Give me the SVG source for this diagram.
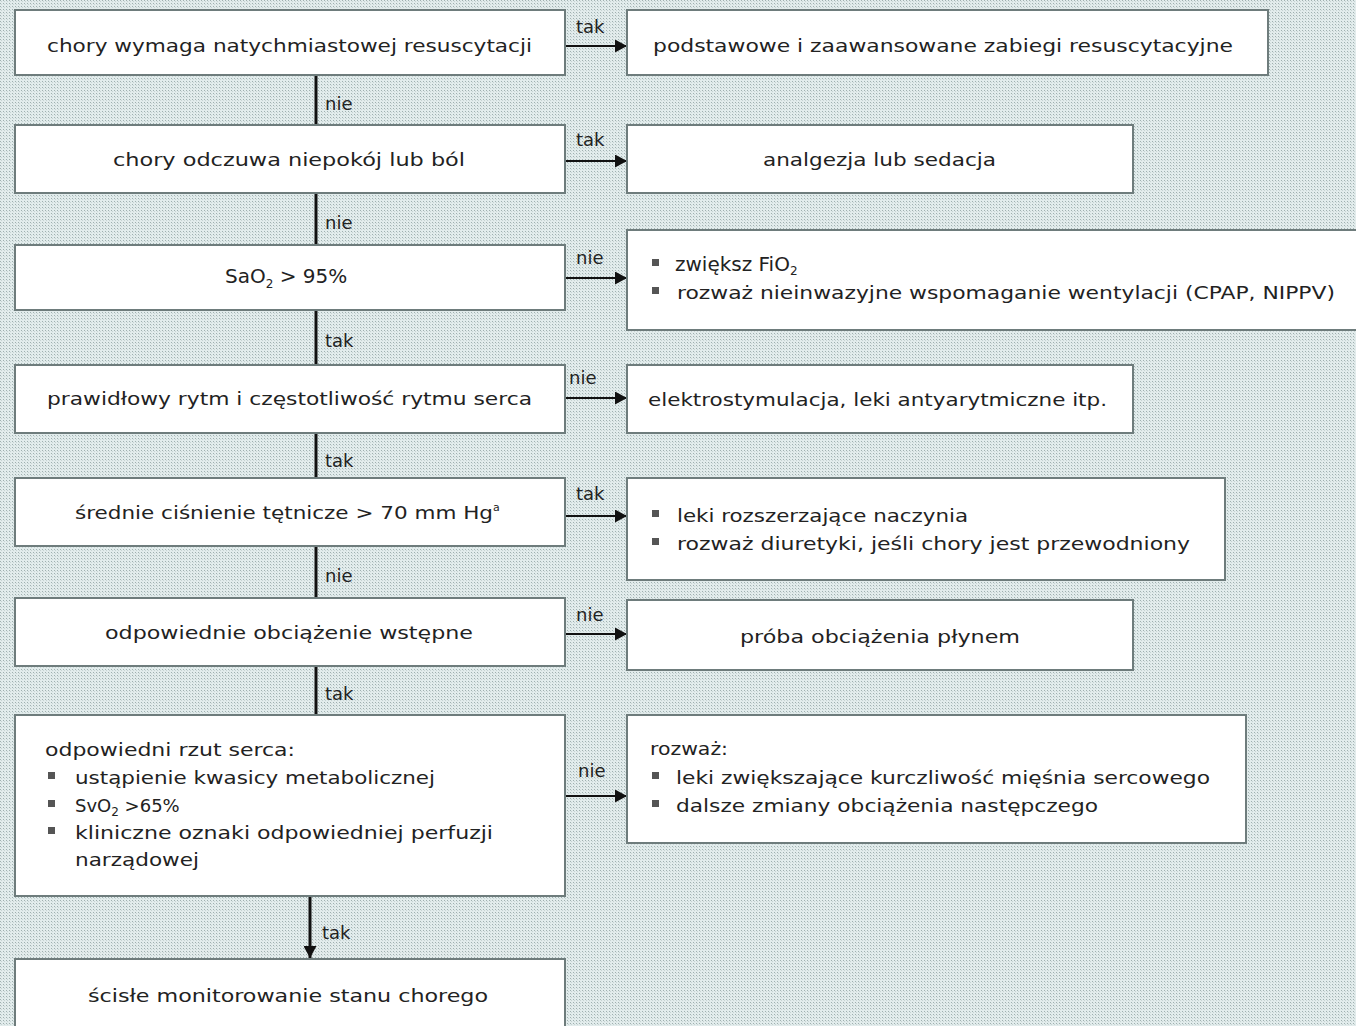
<svg xmlns="http://www.w3.org/2000/svg" width="1356" height="1026" viewBox="0 0 1356 1026">
<defs>
<pattern id="dots" width="3" height="3" patternUnits="userSpaceOnUse">
<rect width="3" height="3" fill="#e2ecec"/>
<rect width="1" height="1" fill="#9fb0b0"/>
<rect x="1" y="1" width="1" height="1" fill="#c6d3d3"/>
</pattern>
<marker id="ah" markerUnits="userSpaceOnUse" markerWidth="12" markerHeight="13" refX="12" refY="6.5" orient="auto">
<path d="M0,0 L12,6.5 L0,13 z" fill="#111"/>
</marker>
<style>
.box{fill:#ffffff;stroke:#6e7c7c;stroke-width:2}
.t{font-family:"DejaVu Sans","Liberation Sans",sans-serif;font-size:18px;fill:#222}
.lbl{font-family:"DejaVu Sans","Liberation Sans",sans-serif;font-size:18px;fill:#222}
.v{stroke:#111;stroke-width:3;fill:none}
.h{stroke:#111;stroke-width:2;fill:none}
.b{fill:#555}
.sub{font-size:12px}
.big{font-size:20px}
</style>
</defs>
<rect width="1356" height="1026" fill="url(#dots)"/>

<g id="connectors">
<line class="v" x1="316" y1="75" x2="316" y2="125"/>
<line class="v" x1="316" y1="193" x2="316" y2="245"/>
<line class="v" x1="316" y1="310" x2="316" y2="365"/>
<line class="v" x1="316" y1="433" x2="316" y2="478"/>
<line class="v" x1="316" y1="546" x2="316" y2="598"/>
<line class="v" x1="316" y1="666" x2="316" y2="715"/>
<line class="v" x1="310" y1="896" x2="310" y2="958" marker-end="url(#ah)"/>
<line class="h" x1="566" y1="46" x2="627" y2="46" marker-end="url(#ah)"/>
<line class="h" x1="566" y1="161" x2="627" y2="161" marker-end="url(#ah)"/>
<line class="h" x1="566" y1="278" x2="627" y2="278" marker-end="url(#ah)"/>
<line class="h" x1="566" y1="398" x2="627" y2="398" marker-end="url(#ah)"/>
<line class="h" x1="566" y1="516" x2="627" y2="516" marker-end="url(#ah)"/>
<line class="h" x1="566" y1="634" x2="627" y2="634" marker-end="url(#ah)"/>
<line class="h" x1="566" y1="796" x2="627" y2="796" marker-end="url(#ah)"/>
<text class="lbl" x="325" y="110">nie</text>
<text class="lbl" x="325" y="229">nie</text>
<text class="lbl" x="325" y="347">tak</text>
<text class="lbl" x="325" y="467">tak</text>
<text class="lbl" x="325" y="582">nie</text>
<text class="lbl" x="325" y="700">tak</text>
<text class="lbl" x="322" y="939">tak</text>
<text class="lbl" x="576" y="33">tak</text>
<text class="lbl" x="576" y="146">tak</text>
<text class="lbl" x="576" y="264">nie</text>
<text class="lbl" x="569" y="384">nie</text>
<text class="lbl" x="576" y="500">tak</text>
<text class="lbl" x="576" y="621">nie</text>
<text class="lbl" x="578" y="777">nie</text>
</g>

<g id="n1"><rect class="box" x="15" y="10" width="550" height="65"/>
<text class="t" x="47" y="52" textLength="485" lengthAdjust="spacingAndGlyphs">chory wymaga natychmiastowej resuscytacji</text></g>
<g id="n2"><rect class="box" x="627" y="10" width="641" height="65"/>
<text class="t" x="653" y="52" textLength="580" lengthAdjust="spacingAndGlyphs">podstawowe i zaawansowane zabiegi resuscytacyjne</text></g>

<g id="n3"><rect class="box" x="15" y="125" width="550" height="68"/>
<text class="t" x="113" y="166" textLength="352" lengthAdjust="spacingAndGlyphs">chory odczuwa niepokój lub ból</text></g>
<g id="n4"><rect class="box" x="627" y="125" width="506" height="68"/>
<text class="t" x="763" y="166" textLength="233" lengthAdjust="spacingAndGlyphs">analgezja lub sedacja</text></g>

<g id="n5"><rect class="box" x="15" y="245" width="550" height="65"/>
<text class="t big" x="225" y="283">SaO<tspan class="sub" dy="5">2</tspan><tspan dy="-5"> &gt; 95%</tspan></text></g>
<g id="n6"><rect class="box" x="627" y="230" width="740" height="100"/>
<rect class="b" x="652" y="259" width="7" height="7"/>
<text class="t big" x="675" y="271">zwiększ FiO<tspan class="sub" dy="4">2</tspan></text>
<rect class="b" x="652" y="287" width="7" height="7"/>
<text class="t" x="677" y="299" textLength="658" lengthAdjust="spacingAndGlyphs">rozważ nieinwazyjne wspomaganie wentylacji (CPAP, NIPPV)</text></g>

<g id="n7"><rect class="box" x="15" y="365" width="550" height="68"/>
<text class="t" x="47" y="405" textLength="485" lengthAdjust="spacingAndGlyphs">prawidłowy rytm i częstotliwość rytmu serca</text></g>
<g id="n8"><rect class="box" x="627" y="365" width="506" height="68"/>
<text class="t" x="648" y="406" textLength="459" lengthAdjust="spacingAndGlyphs">elektrostymulacja, leki antyarytmiczne itp.</text></g>

<g id="n9"><rect class="box" x="15" y="478" width="550" height="68"/>
<text class="t" x="75" y="519"><tspan textLength="418" lengthAdjust="spacingAndGlyphs">średnie ciśnienie tętnicze &gt; 70 mm Hg</tspan><tspan font-size="11" dy="-8">a</tspan></text></g>
<g id="n10"><rect class="box" x="627" y="478" width="598" height="102"/>
<rect class="b" x="652" y="510" width="7" height="7"/>
<text class="t" x="677" y="522" textLength="291" lengthAdjust="spacingAndGlyphs">leki rozszerzające naczynia</text>
<rect class="b" x="652" y="538" width="7" height="7"/>
<text class="t" x="677" y="550" textLength="513" lengthAdjust="spacingAndGlyphs">rozważ diuretyki, jeśli chory jest przewodniony</text></g>

<g id="n11"><rect class="box" x="15" y="598" width="550" height="68"/>
<text class="t" x="105" y="639" textLength="368" lengthAdjust="spacingAndGlyphs">odpowiednie obciążenie wstępne</text></g>
<g id="n12"><rect class="box" x="627" y="600" width="506" height="70"/>
<text class="t" x="740" y="643" textLength="280" lengthAdjust="spacingAndGlyphs">próba obciążenia płynem</text></g>

<g id="n13"><rect class="box" x="15" y="715" width="550" height="181"/>
<text class="t" x="45" y="756" textLength="250" lengthAdjust="spacingAndGlyphs">odpowiedni rzut serca:</text>
<rect class="b" x="48" y="772" width="7" height="7"/>
<text class="t" x="75" y="784" textLength="360" lengthAdjust="spacingAndGlyphs">ustąpienie kwasicy metabolicznej</text>
<rect class="b" x="48" y="800" width="7" height="7"/>
<text class="t" x="75" y="812">SvO<tspan class="sub" dy="4">2</tspan><tspan dy="-4"> &gt;65%</tspan></text>
<rect class="b" x="48" y="827" width="7" height="7"/>
<text class="t" x="75" y="839" textLength="418" lengthAdjust="spacingAndGlyphs">kliniczne oznaki odpowiedniej perfuzji</text>
<text class="t" x="75" y="866" textLength="124" lengthAdjust="spacingAndGlyphs">narządowej</text></g>
<g id="n14"><rect class="box" x="627" y="715" width="619" height="128"/>
<text class="t" x="650" y="755" textLength="78" lengthAdjust="spacingAndGlyphs">rozważ:</text>
<rect class="b" x="652" y="772" width="7" height="7"/>
<text class="t" x="676" y="784" textLength="534" lengthAdjust="spacingAndGlyphs">leki zwiększające kurczliwość mięśnia sercowego</text>
<rect class="b" x="652" y="800" width="7" height="7"/>
<text class="t" x="676" y="812" textLength="422" lengthAdjust="spacingAndGlyphs">dalsze zmiany obciążenia następczego</text></g>

<g id="n15"><rect class="box" x="15" y="959" width="550" height="80"/>
<text class="t" x="88" y="1002" textLength="400" lengthAdjust="spacingAndGlyphs">ścisłe monitorowanie stanu chorego</text></g>
</svg>
